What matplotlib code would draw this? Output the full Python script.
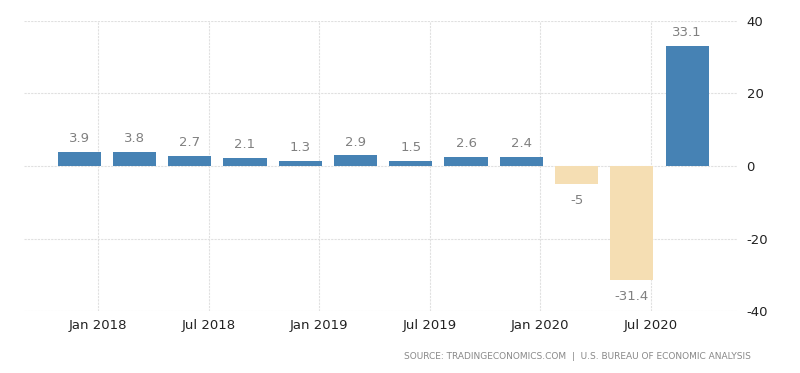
import matplotlib.pyplot as plt
import numpy as np

quarters = ["Q1 2018", "Q2 2018", "Q3 2018", "Q4 2018",
            "Q1 2019", "Q2 2019", "Q3 2019", "Q4 2019",
            "Q1 2020", "Q2 2020", "Q3 2020", "Q4 2020"]
growth = [3.9, 3.8, 2.7, 2.1, 1.3, 2.9, 1.5, 2.6, 2.4, -5, -31.4, 33.1]
tick_labels = ["Jan 2018", "Jul 2018", "Jan 2019", "Jul 2019", "Jan 2020", "Jul 2020"]

blue = "#4682b4"
sand = "#f5deb3"

plt.rcParams["axes.unicode_minus"] = False

x = np.arange(len(growth))
colors = [blue if v >= 0 else sand for v in growth]

fig = plt.figure(figsize=(8, 3.73), dpi=100)
ax = fig.add_axes([0.03, 0.166, 0.891, 0.778])

ax.bar(x, growth, width=0.78, color=colors, zorder=3)

for xi, v in zip(x, growth):
    label = f"{v:g}"
    if v >= 0:
        ax.annotate(label, (xi, v), xytext=(0, 5), textcoords="offset points",
                    ha="center", va="bottom", color="#808080", fontsize=9.5)
    else:
        ax.annotate(label, (xi, v), xytext=(0, -7), textcoords="offset points",
                    ha="center", va="top", color="#808080", fontsize=9.5)

ax.set_xlim(-1.0, 11.9)
ax.set_ylim(-40, 40)
ax.set_xticks(np.arange(len(tick_labels)) * 2 + 0.345)
ax.set_xticklabels(tick_labels)
ax.set_yticks([-40, -20, 0, 20, 40])
ax.yaxis.tick_right()
ax.tick_params(length=0, labelsize=9.5, colors="#222222", pad=6)
ax.tick_params(axis="y", pad=7)

ax.grid(True, color="#e0e0e0", linestyle=(0, (2, 1)), linewidth=0.8, zorder=0)
for s in ax.spines.values():
    s.set_visible(False)

fig.text(0.938, 0.045, "SOURCE: TRADINGECONOMICS.COM  |  U.S. BUREAU OF ECONOMIC ANALYSIS",
         ha="right", va="center", fontsize=6.5, color="#888888")

plt.savefig("out.png", dpi=100)
plt.close(fig)
